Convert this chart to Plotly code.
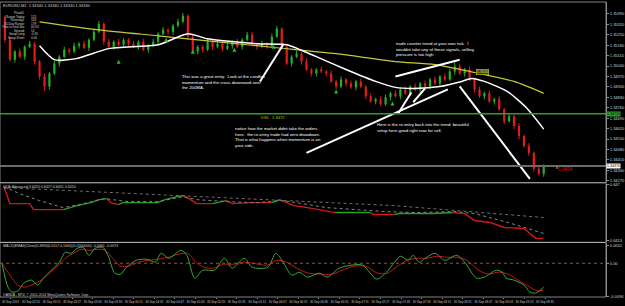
import plotly.graph_objects as go

# ---------------- data ----------------
symbol_header = "EURUSD,M1  1.34340 1.34340 1.34340 1.34340"
first_open = 1.35370
close = [
    1.35217, 1.35083, 1.35137, 1.35103, 1.35170, 1.35190, 1.35070, 1.34970, 1.34903, 1.34990,
    1.35057, 1.35103, 1.35150, 1.35137, 1.35177, 1.35190, 1.35163, 1.35217, 1.35270, 1.35323,
    1.35203, 1.35170, 1.35203, 1.35183, 1.35217, 1.35190, 1.35170, 1.35203, 1.35150, 1.35177,
    1.35203, 1.35257, 1.35283, 1.35270, 1.35310, 1.35337, 1.35377, 1.35237, 1.35137, 1.35170,
    1.35150, 1.35203, 1.35170, 1.35190, 1.35157, 1.35177, 1.35203, 1.35170, 1.35217, 1.35250,
    1.35183, 1.35170, 1.35190, 1.35177, 1.35237, 1.35290, 1.35170, 1.35057, 1.35103, 1.35123,
    1.35070, 1.35017, 1.34990, 1.35017, 1.35003, 1.34990, 1.34937, 1.34903, 1.34950, 1.34923,
    1.34897, 1.34937, 1.34903, 1.34837, 1.34803, 1.34817, 1.34783, 1.34830, 1.34857, 1.34837,
    1.34883, 1.34857, 1.34903, 1.34883, 1.34923, 1.34903, 1.34950, 1.34923, 1.34970, 1.34950,
    1.35003, 1.35037, 1.34990, 1.35017, 1.34950, 1.34883, 1.34837, 1.34857, 1.34803, 1.34817,
    1.34750, 1.34670, 1.34703, 1.34637, 1.34570, 1.34503, 1.34457, 1.34350, 1.34317, 1.34370,
]
wick_up_pips = [
    1, 2, 1, 2, 1, 2, 1, 1, 2, 1,
    2, 1, 2, 1, 2, 1, 2, 1, 2, 2,
    1, 2, 1, 2, 1, 1, 2, 1, 2, 1,
    2, 1, 2, 1, 1, 2, 2, 1, 2, 1,
    1, 2, 1, 2, 1, 2, 1, 2, 1, 2,
    2, 1, 2, 1, 2, 2, 1, 2, 1, 2,
    1, 2, 1, 1, 2, 1, 2, 1, 2, 1,
    2, 1, 2, 1, 2, 1, 2, 2, 1, 2,
    1, 2, 1, 2, 1, 2, 1, 2, 1, 2,
    2, 3, 2, 1, 2, 1, 2, 1, 2, 1,
    2, 1, 2, 1, 2, 1, 2, 1, 2, 1,
]
wick_dn_pips = [
    2, 1, 2, 1, 2, 1, 2, 2, 3, 2,
    1, 2, 1, 2, 1, 2, 1, 2, 1, 1,
    2, 1, 2, 1, 2, 2, 1, 2, 1, 2,
    1, 2, 1, 2, 2, 1, 1, 2, 1, 2,
    2, 1, 2, 1, 2, 1, 2, 1, 2, 1,
    1, 2, 1, 2, 1, 1, 2, 1, 2, 1,
    2, 1, 2, 2, 1, 2, 1, 2, 1, 2,
    1, 2, 1, 2, 1, 2, 1, 1, 2, 1,
    2, 1, 2, 1, 2, 1, 2, 1, 2, 1,
    1, 2, 1, 2, 1, 2, 1, 2, 1, 2,
    1, 2, 1, 2, 2, 1, 2, 2, 1, 2,
]

ma200_x = [7, 19, 31, 43, 55, 67, 79, 87, 95, 103, 109]
ma200_y = [1.35337, 1.35283, 1.35243, 1.35203, 1.35163, 1.35123, 1.35070, 1.35050, 1.34997, 1.34937, 1.34857]

ma_fast_x = [7, 10, 14.4, 21, 31, 37, 41, 51, 57, 63, 69, 75, 79, 83, 88, 92.4, 94.4, 97, 101.6, 105.6, 109]
ma_fast_y = [1.35177, 1.35083, 1.35090, 1.35157, 1.35183, 1.35257, 1.35223, 1.35190, 1.35183, 1.35103,
             1.35017, 1.34937, 1.34897, 1.34890, 1.34903, 1.34937, 1.34957, 1.34937, 1.34870, 1.34757, 1.34617]

buy_x = [23, 32.6, 38, 46.4, 54.4, 67, 78.4]
buy_y = [1.35083, 1.35230, 1.35150, 1.35163, 1.35183, 1.34883, 1.34803]

# user-drawn trend lines (bar index, price)
tl_x0 = [51.6, 61.0, 79.6, 82.6, 79.0, 92.0]
tl_y0 = [1.34937, 1.34457, 1.34723, 1.34797, 1.34970, 1.34903]
tl_x1 = [56.4, 89.6, 82.2, 85.0, 92.0, 106.2]
tl_y1 = [1.35190, 1.34883, 1.34863, 1.34890, 1.35083, 1.34283]

ds1_level = 1.3472
bid_level = 1.34370
last_label = "1.3434"
ma200_label = "1.3500"

# second window (stepped oscillator)
osc_x = [-0.2, 1, 5, 5.8, 11.8, 14.6, 17.4, 19, 20.6, 21.4, 23, 23.8, 30.8, 32.4, 34.8, 36, 37.2, 38.8, 42,
         43.6, 44.8, 46, 50, 54, 55.6, 57.2, 58.4, 61.2, 64.4, 66.8, 74, 74.4, 78.8, 79.6, 86.6, 90.6, 93,
         95, 98.2, 101, 105, 106.2, 107.4, 109]
osc_y = [0.6468, 0.6451, 0.6451, 0.6445, 0.6445, 0.6449, 0.6452, 0.6455, 0.6456, 0.6452, 0.6450, 0.6452,
         0.6452, 0.6455, 0.6458, 0.6459, 0.6456, 0.6451, 0.6451, 0.6453, 0.6454, 0.6451, 0.6452, 0.6452,
         0.6455, 0.6452, 0.6449, 0.6447, 0.6444, 0.6442, 0.6442, 0.6440, 0.6440, 0.6441, 0.6441, 0.6442,
         0.6441, 0.6434, 0.6432, 0.6427, 0.6426, 0.6421, 0.6416, 0.6416]
osc_seg_color = "rrrrggggrrgggggrrrggrrrgrrrrrgrrgggrrrrrrrr"

osc_fast_x = [-0.2, 3, 7, 11.8, 15, 20.2, 25, 31, 36, 39, 45, 51, 56, 59, 65, 71, 77, 83, 91, 95, 101.8, 109]
osc_fast_y = [0.6468, 0.6461, 0.6454, 0.6447, 0.6450, 0.6456, 0.6453, 0.6453, 0.6458, 0.6455, 0.6453,
              0.6452, 0.6454, 0.6452, 0.6447, 0.6445, 0.6443, 0.6442, 0.6443, 0.6441, 0.6432, 0.6421]
osc_slow_x = [0.6, 35.6, 54.8, 78.8, 109]
osc_slow_y = [0.6467, 0.6459, 0.6455, 0.6449, 0.6437]

# third window (MACD)
macd_x = [-0.6, 0.6, 1.4, 2.6, 3.8, 5.4, 6.6, 7.8, 9.4, 11, 12.2, 13.4, 14.6, 15.8, 17, 18.2, 19.8, 21,
          22.2, 23.4, 24.6, 26.6, 28.8, 30.4, 31.6, 33.2, 35.6, 36.8, 38.4, 40, 42.4, 44.4, 46, 48.4, 50,
          53.2, 54.8, 56.4, 58, 59.6, 61.2, 63.6, 65.2, 67.6, 70, 72.4, 75.2, 77.2, 78.8, 80, 81.6, 82.6,
          83.8, 85, 87, 89, 91.4, 93, 95.4, 97, 99.4, 100.6, 101.4, 103, 105, 106.2, 107.4, 109]
macd_y = [0.0, -0.00696, -0.00841, -0.00812, -0.00580, -0.00493, -0.00638, -0.00435, -0.00203, 0.00029,
          0.00319, 0.00290, 0.00435, 0.00464, 0.00232, 0.00435, 0.00464, 0.00174, -0.00290, -0.00319,
          -0.00116, 0.00087, 0.00116, 0.00029, 0.00290, 0.00145, 0.00377, 0.00232, -0.00435, -0.00203,
          -0.00203, 0.00145, -0.00145, 0.00145, -0.00116, -0.00116, 0.00290, 0.0, -0.00348, -0.00261,
          -0.00406, -0.00290, -0.00406, -0.00145, -0.00058, -0.00058, -0.00464, -0.00261, 0.00029, 0.00203,
          0.00087, 0.00232, 0.00029, 0.00145, 0.00290, 0.00087, 0.00232, 0.00029, -0.00435, -0.00406,
          -0.00203, -0.00261, -0.00435, -0.00493, -0.00638, -0.00841, -0.00870, -0.00696]
sig_x = [-0.6, 1, 2.6, 4.2, 5.8, 7.4, 9, 10.6, 12.2, 13.8, 15.4, 17, 18.6, 20.2, 21.8, 23.4, 25, 27, 29,
         31, 33, 35, 37, 38.6, 40.2, 42.2, 44.2, 46.2, 48.2, 50.2, 53, 55, 57, 59, 61.4, 63.8, 66.2, 68.2,
         70.6, 73, 75.4, 77.4, 79.4, 81.4, 83.4, 85.4, 87.4, 89.4, 91.4, 93.4, 95.8, 97.8, 99.8, 101.8,
         103.8, 105.8, 107.8, 109]
sig_y = [0.0, -0.00348, -0.00638, -0.00696, -0.00609, -0.00493, -0.00290, -0.00087, 0.00145, 0.00290,
         0.00406, 0.00377, 0.00406, 0.00377, 0.00145, -0.00087, -0.00087, 0.00029, 0.00087, 0.00116,
         0.00174, 0.00261, 0.00290, 0.00029, -0.00116, -0.00145, -0.00029, -0.00029, 0.00029, 0.0,
         -0.00058, 0.00087, 0.00029, -0.00145, -0.00290, -0.00319, -0.00319, -0.00203, -0.00087, -0.00087,
         -0.00290, -0.00290, -0.00087, 0.00087, 0.00145, 0.00145, 0.00203, 0.00174, 0.00174, 0.00087,
         -0.00203, -0.00319, -0.00261, -0.00319, -0.00493, -0.00667, -0.00812, -0.00783]

time_labels = ["30 Sep 2013", "30 Sep 02:55", "30 Sep 03:11", "30 Sep 03:27", "30 Sep 03:43",
               "30 Sep 03:59", "30 Sep 04:15", "30 Sep 04:31", "30 Sep 04:47", "30 Sep 05:03",
               "30 Sep 05:19", "30 Sep 05:35", "30 Sep 05:51", "30 Sep 06:07", "30 Sep 06:23",
               "30 Sep 06:39", "30 Sep 06:55", "30 Sep 07:11", "30 Sep 07:27", "30 Sep 07:43",
               "30 Sep 07:59", "30 Sep 08:15", "30 Sep 08:31", "30 Sep 08:47", "30 Sep 09:03",
               "30 Sep 09:19", "30 Sep 09:35"]

info_labels = ["Range Today:", "Yesterday:", "20-Day Range:", "Time to next bar:", "Spread:", "Swap Long:", "Swap Short:"]
info_values = ["125", "163", "179", "00:53", "14", "-0.35", "0.06"]

note_entry = "This was a great entry.  Look at the candles<br>momentum and the cross downward over<br>the 200MA."
note_counter = "trade counter trend at your own risk.  I<br>wouldnt take any of these signals, selling<br>pressure is too high"
note_notice = ("notice how the market didnt take the orders<br>here.  the re-entry trade had zero drawdown.<br>"
               "That is what happens when momentum is on<br>your side.")
note_reentry = "Here is the re-entry back into the trend. beautiful<br>setup here good right now for sell."
osc_title = "QQE Advanced 0.6420 0.6427 0.6401 0.6410"
macd_title = "MACD(EMA3(Close)0.3896(0.0117,0.1000)(0.2000000) -0.0061 -0.0073"
footer = "OANDA - MT4, \u00a9 2001-2014 MetaQuotes Software Corp."

# ---------------- layout geometry ----------------
W, H = 625, 306
MR, MB = 12, 9
PW, PH = W - MR, H - MB
FONT = "Liberation Sans"
UP, DN = "#22b322", "#e01c1c"


def px(x):
    return x / PW


def py(y):
    return (PH - y) / PH


fig = go.Figure()

# candles built from OHLC
opens = [first_open] + close[:-1]
seg = {UP: ([], [], [], []), DN: ([], [], [], [])}
for i, (o, c) in enumerate(zip(opens, close)):
    col = UP if c >= o else DN
    hi = max(o, c) + wick_up_pips[i] * 0.0001
    lo = min(o, c) - wick_dn_pips[i] * 0.0001
    wx, wy, bx, by = seg[col]
    wx += [i, i, None]
    wy += [lo, hi, None]
    bx += [i, i, None]
    by += [o, c if c != o else c + 0.00002, None]
for col, (wx, wy, bx, by) in seg.items():
    fig.add_trace(go.Scatter(x=wx, y=wy, mode="lines", line=dict(color=col, width=1), xaxis="x", yaxis="y", hoverinfo="skip"))
    fig.add_trace(go.Scatter(x=bx, y=by, mode="lines", line=dict(color=col, width=2.2), xaxis="x", yaxis="y", hoverinfo="skip"))

fig.add_trace(go.Scatter(x=ma200_x, y=ma200_y, mode="lines", line=dict(color="#c8c83c", width=1.2, shape="spline", smoothing=0.7), xaxis="x", yaxis="y"))
fig.add_trace(go.Scatter(x=ma_fast_x, y=ma_fast_y, mode="lines", line=dict(color="#ffffff", width=1.5, shape="spline", smoothing=0.6), xaxis="x", yaxis="y"))
fig.add_trace(go.Scatter(x=buy_x, y=buy_y, mode="markers", marker=dict(symbol="arrow-up", size=4, color="#22c022"), xaxis="x", yaxis="y"))

# oscillator window
cmap = {"r": "#d01818", "g": "#25a025"}
start = 0
for k in range(1, len(osc_seg_color) + 1):
    if k == len(osc_seg_color) or osc_seg_color[k] != osc_seg_color[start]:
        fig.add_trace(go.Scatter(x=osc_x[start:k + 1], y=osc_y[start:k + 1], mode="lines",
                                 line=dict(color=cmap[osc_seg_color[start]], width=1.4), xaxis="x2", yaxis="y2"))
        start = k
fig.add_trace(go.Scatter(x=osc_fast_x, y=osc_fast_y, mode="lines", line=dict(color="#858585", width=1, dash="dot"), xaxis="x2", yaxis="y2"))
fig.add_trace(go.Scatter(x=osc_slow_x, y=osc_slow_y, mode="lines", line=dict(color="#6e6e6e", width=1, dash="dot"), xaxis="x2", yaxis="y2"))

# MACD window
fig.add_trace(go.Scatter(x=sig_x, y=sig_y, mode="lines", line=dict(color="#c01818", width=1, shape="spline", smoothing=0.8), xaxis="x3", yaxis="y3"))
fig.add_trace(go.Scatter(x=macd_x, y=macd_y, mode="lines", line=dict(color="#38a838", width=1, shape="spline", smoothing=0.8), xaxis="x3", yaxis="y3"))

XR = [-1, (PW - 5) / 5]
axis_common = dict(range=XR, showgrid=False, zeroline=False, showticklabels=False, ticks="", fixedrange=True)
price_ticks = [round(1.3427 + 0.0007 * k, 5) for k in range(17)]
yfont = dict(family=FONT, size=4, color="#d0d0d0")
ycommon = dict(side="right", showgrid=False, zeroline=False, ticks="outside", ticklen=2, tickcolor="#909090",
               tickfont=yfont, showline=True, linecolor="#9a9a9a", linewidth=1)

fig.update_layout(
    width=W, height=H, margin=dict(l=0, r=MR, t=0, b=MB),
    paper_bgcolor="#000000", plot_bgcolor="#000000", showlegend=False,
    xaxis=dict(domain=[0, 1], anchor="y", **axis_common),
    xaxis2=dict(domain=[0, 1], anchor="y2", **axis_common),
    xaxis3=dict(domain=[0, 1], anchor="y3", range=XR, showgrid=False, zeroline=False, tickmode="array",
                tickvals=[1.1 + 4.16 * k for k in range(len(time_labels))], ticktext=time_labels, tickangle=0,
                ticks="outside", ticklen=1, tickcolor="#909090",
                tickfont=dict(family=FONT, size=3, color="#c8c8c8")),
    yaxis=dict(domain=[py(181), 1], anchor="x", range=[1.3547 - 181 / 15000, 1.3547], tickmode="array",
               tickvals=price_ticks, tickformat=".5f", **ycommon),
    yaxis2=dict(domain=[py(242), py(183)], anchor="x2", range=[0.6412, 0.6471], tickmode="array",
                tickvals=[0.6470, 0.6414], ticktext=["0.647", "0.6413"], **ycommon),
    yaxis3=dict(domain=[0, py(243)], anchor="x3", range=[-0.00986, 0.0058], tickmode="array",
                tickvals=[0.0052, 0.0, -0.0096], ticktext=["0.0052", "0.00", "-0.0096"], **ycommon),
)

shapes = []
for x0, y0, x1, y1 in zip(tl_x0, tl_y0, tl_x1, tl_y1):
    shapes.append(dict(type="line", xref="x", yref="y", x0=x0, y0=y0, x1=x1, y1=y1, line=dict(color="#ffffff", width=2)))
shapes.append(dict(type="line", xref="x domain", yref="y", x0=0, x1=1, y0=ds1_level, y1=ds1_level, line=dict(color="#2aa02a", width=1.5)))
shapes.append(dict(type="line", xref="x domain", yref="y", x0=0, x1=1, y0=bid_level, y1=bid_level, line=dict(color="#6a6a6a", width=2)))
shapes.append(dict(type="line", xref="x3 domain", yref="y3", x0=0, x1=1, y0=0, y1=0, line=dict(color="#8b5a2b", width=1, dash="dot")))
for yy in (182, 242):
    shapes.append(dict(type="line", xref="paper", yref="paper", x0=0, x1=1, y0=py(yy), y1=py(yy), line=dict(color="#c8c8c8", width=1)))
shapes.append(dict(type="rect", xref="paper", yref="paper", x0=0, x1=1, y0=0, y1=1, line=dict(color="#808080", width=1)))
fig.update_layout(shapes=shapes)


def note(x, y, text, size=4.3, color="#ffffff", xanchor="left", yanchor="middle", **kw):
    return dict(xref="paper", yref="paper", x=px(x), y=py(y), text=text, showarrow=False, align="left",
                font=dict(family=FONT, size=size, color=color), xanchor=xanchor, yanchor=yanchor, borderpad=0, **kw)


ann = [
    note(2, 4, symbol_header, size=4, color="#d0d0d0"),
    note(20, 11, "PivotD", size=3.4, color="#d0d0d0", xanchor="center"),
    note(183, 71, note_entry, yanchor="top"),
    note(400, 38, note_counter, yanchor="top"),
    note(237, 124, note_notice, yanchor="top"),
    note(380, 120, note_reentry, yanchor="top"),
    note(263, 116.5, "DS1&nbsp;&nbsp;&nbsp;" + f"{ds1_level:.4f}", size=4, color="#c8c800"),
    note(561, 169, '<span style="color:#ffffff">^</span>' + last_label, size=4.6, color="#e01010"),
    note(2, 186.5, osc_title, size=3.6, color="#d0d0d0"),
    note(2, 245.5, macd_title, size=3.6, color="#d0d0d0"),
    note(2, 294.5, footer, size=3.4, color="#d0d0d0"),
    dict(xref="x", yref="y", x=96.6, y=1.34997, text=ma200_label, showarrow=False, borderpad=0.5,
         font=dict(family=FONT, size=3.6, color="#e8e890"), bgcolor="#3c3c00", bordercolor="#c8c83c", borderwidth=0.6),
    dict(xref="paper", yref="y", x=1, y=ds1_level, xanchor="left", text=f"{ds1_level:.5f}", showarrow=False, borderpad=0,
         font=dict(family=FONT, size=3.6, color="#000000"), bgcolor="#2aa02a"),
    dict(xref="paper", yref="y", x=1, y=bid_level, xanchor="left", text=f"{bid_level:.5f}", showarrow=False, borderpad=0,
         font=dict(family=FONT, size=3.6, color="#000000"), bgcolor="#ffffff"),
]
info_y = [14.7, 18.3, 21.7, 25.3, 29, 32.7, 36]
for lab, val, yy in zip(info_labels, info_values, info_y):
    ann.append(note(26, yy, lab, size=3.1, color="#d0d0d0", xanchor="right"))
    ann.append(note(30, yy, val, size=3.1, color="#d0d0d0"))
fig.update_layout(annotations=ann)

fig.write_html("out.html")
